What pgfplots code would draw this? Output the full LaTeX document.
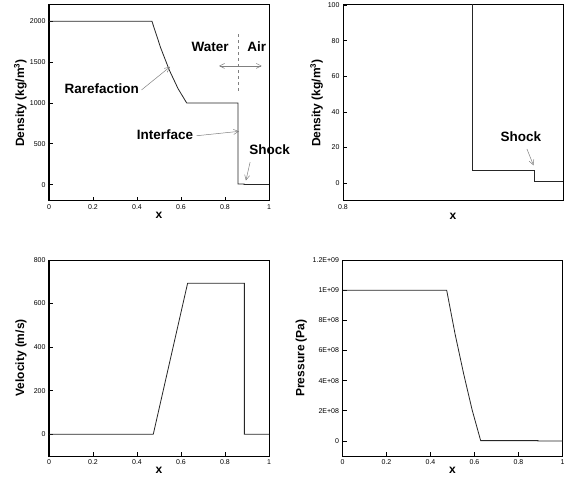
\documentclass[border=0pt]{standalone}
\usepackage{pgfplots}
\pgfplotsset{compat=1.18}
\usepackage{fontspec}
\setmainfont{Liberation Sans}
\usetikzlibrary{arrows.meta}

\pgfplotsset{
  panel/.style={
    scale only axis, width=220pt, height=196pt,
    axis line style={line width=1pt},
    tick align=inside, tick pos=left, major tick length=4pt,
    tick style={black, line width=0.8pt},
    ticklabel style={font=\fontsize{7}{8}\selectfont},
    /pgf/number format/assume math mode=true,
    /pgf/number format/1000 sep={},
    scaled ticks=false,
    label style={font=\fontsize{12}{14}\selectfont\bfseries},
    xlabel={x},
    xlabel style={at={(axis description cs:0.5,-0.072)}, anchor=center},
    clip mode=individual,
  },
}
\tikzset{
  curve/.style={black!85, line width=0.8pt, mark=none},
  ann/.style={font=\fontsize{13.5}{16}\selectfont\bfseries},
  pointer/.style={gray, line width=0.5pt, -{Straight Barb[length=5pt,width=5pt]}},
}

\begin{document}
\begin{tikzpicture}
\useasboundingbox (0pt,0pt) rectangle (573pt,477pt);

% density, full domain
\begin{axis}[panel, at={(49pt,276pt)}, anchor=south west,
    xmin=0, xmax=1, ymin=-200, ymax=2200,
    xtick={0,0.2,...,1}, ytick={0,500,...,2000},
    ylabel={Density (kg/m\textsuperscript{3})},
    ylabel style={at={(axis description cs:-0.13,0.5)}, anchor=center}]
  \addplot[curve] coordinates {
    (0,2000) (0.468,2000) (0.5075,1676) (0.547,1402) (0.5865,1176) (0.626,1000)
    (0.859,1000) (0.859,7) (0.887,7) (0.887,1) (1,1)
  };
  \node[ann] at (axis cs:0.732,1686) {Water};
  \node[ann] at (axis cs:0.944,1686) {Air};
  \draw[gray, dashed, line width=0.5pt] (axis cs:0.86,1841) -- (axis cs:0.86,1149);
  \draw[gray, line width=0.5pt, {Straight Barb[length=5pt,width=5pt]}-{Straight Barb[length=5pt,width=5pt]}]
    (axis cs:0.773,1454) -- (axis cs:0.967,1454);
  \node[ann] at (axis cs:0.24,1178) {Rarefaction};
  \draw[pointer] (axis cs:0.421,1161) -- (axis cs:0.55,1443);
  \node[ann] at (axis cs:0.527,611) {Interface};
  \draw[pointer] (axis cs:0.671,599) -- (axis cs:0.864,653);
  \node[ann] at (axis cs:1.003,433) {Shock};
  \draw[pointer] (axis cs:0.914,275) -- (axis cs:0.895,50);
\end{axis}

% density, close-up
\begin{axis}[panel, at={(343pt,276pt)}, anchor=south west,
    xmin=0.8, xmax=0.9, ymin=-10, ymax=100,
    xtick={0.8}, ytick={0,20,...,100},
    ylabel={Density (kg/m\textsuperscript{3})},
    xlabel style={at={(axis description cs:0.5,-0.08)}, anchor=center},
    ylabel style={at={(axis description cs:-0.12,0.5)}, anchor=center}]
  \addplot[curve] coordinates {
    (0.8,1000) (0.859,1000) (0.859,7) (0.887,7) (0.887,1) (0.9,1)
  };
  \node[ann] at (axis cs:0.8809,26.3) {Shock};
  \draw[pointer] (axis cs:0.8836,19.2) -- (axis cs:0.8866,10);
\end{axis}

% velocity
\begin{axis}[panel, at={(49pt,21pt)}, anchor=south west,
    xmin=0, xmax=1, ymin=-100, ymax=800,
    xtick={0,0.2,...,1}, ytick={0,200,...,800},
    ylabel={Velocity (m/s)},
    ylabel style={at={(axis description cs:-0.127,0.5)}, anchor=center}]
  \addplot[curve] coordinates {
    (0,0) (0.474,0) (0.63,693) (0.888,693) (0.888,0) (1,0)
  };
\end{axis}

% pressure
\begin{axis}[panel, at={(342.5pt,21pt)}, anchor=south west,
    xmin=0, xmax=1, ymin=-1e8, ymax=1.2e9,
    xtick={0,0.2,...,1},
    ytick={0,2e8,4e8,6e8,8e8,1e9,1.2e9},
    yticklabels={0,2E+08,4E+08,6E+08,8E+08,1E+09,1.2E+09},
    ylabel={Pressure (Pa)},
    ylabel style={at={(axis description cs:-0.187,0.5)}, anchor=center}]
  \addplot[curve] coordinates {
    (0,1e9) (0.4735,1e9) (0.512,7.07e8) (0.551,4.43e8) (0.589,2.07e8) (0.628,2e6)
    (0.888,2e6) (0.888,1e5) (1,1e5)
  };
\end{axis}
\end{tikzpicture}
\end{document}
